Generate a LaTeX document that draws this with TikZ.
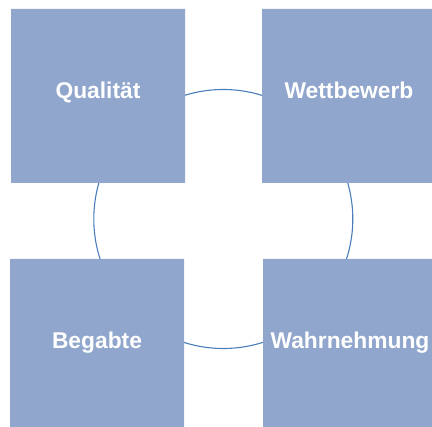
\documentclass[tikz,border=0pt]{standalone}
\usepackage{fontspec}
\setmainfont{Liberation Sans}
\definecolor{tileblue}{RGB}{144,166,204}
\definecolor{ringblue}{RGB}{74,126,187}
\begin{document}
\begin{tikzpicture}[x=1pt, y=-1pt,
    tile/.style={fill=tileblue},
    lbl/.style={anchor=base, yshift=-2.5pt, text=white,
                font=\bfseries\fontsize{22.8}{26}\selectfont}]
    \clip (0, 0) rectangle (432, 427);
    \coordinate (mid) at (223.3, 219);
    \draw[ringblue, line width=1.1pt] (mid) circle (129.5);
    \fill[tile] (11, 9) rectangle (185, 183) node (qual) [lbl, pos=.5] {Qualität}
                (262, 9) rectangle (436, 183) node (wett) [lbl, pos=.5] {Wettbewerb}
                (10, 259) rectangle (184, 433) node (beg) [lbl, pos=.5] {Begabte}
                (263, 259) rectangle (437, 433) node (wahr) [lbl, pos=.5] {Wahrnehmung};
  \end{tikzpicture}
\end{document}
